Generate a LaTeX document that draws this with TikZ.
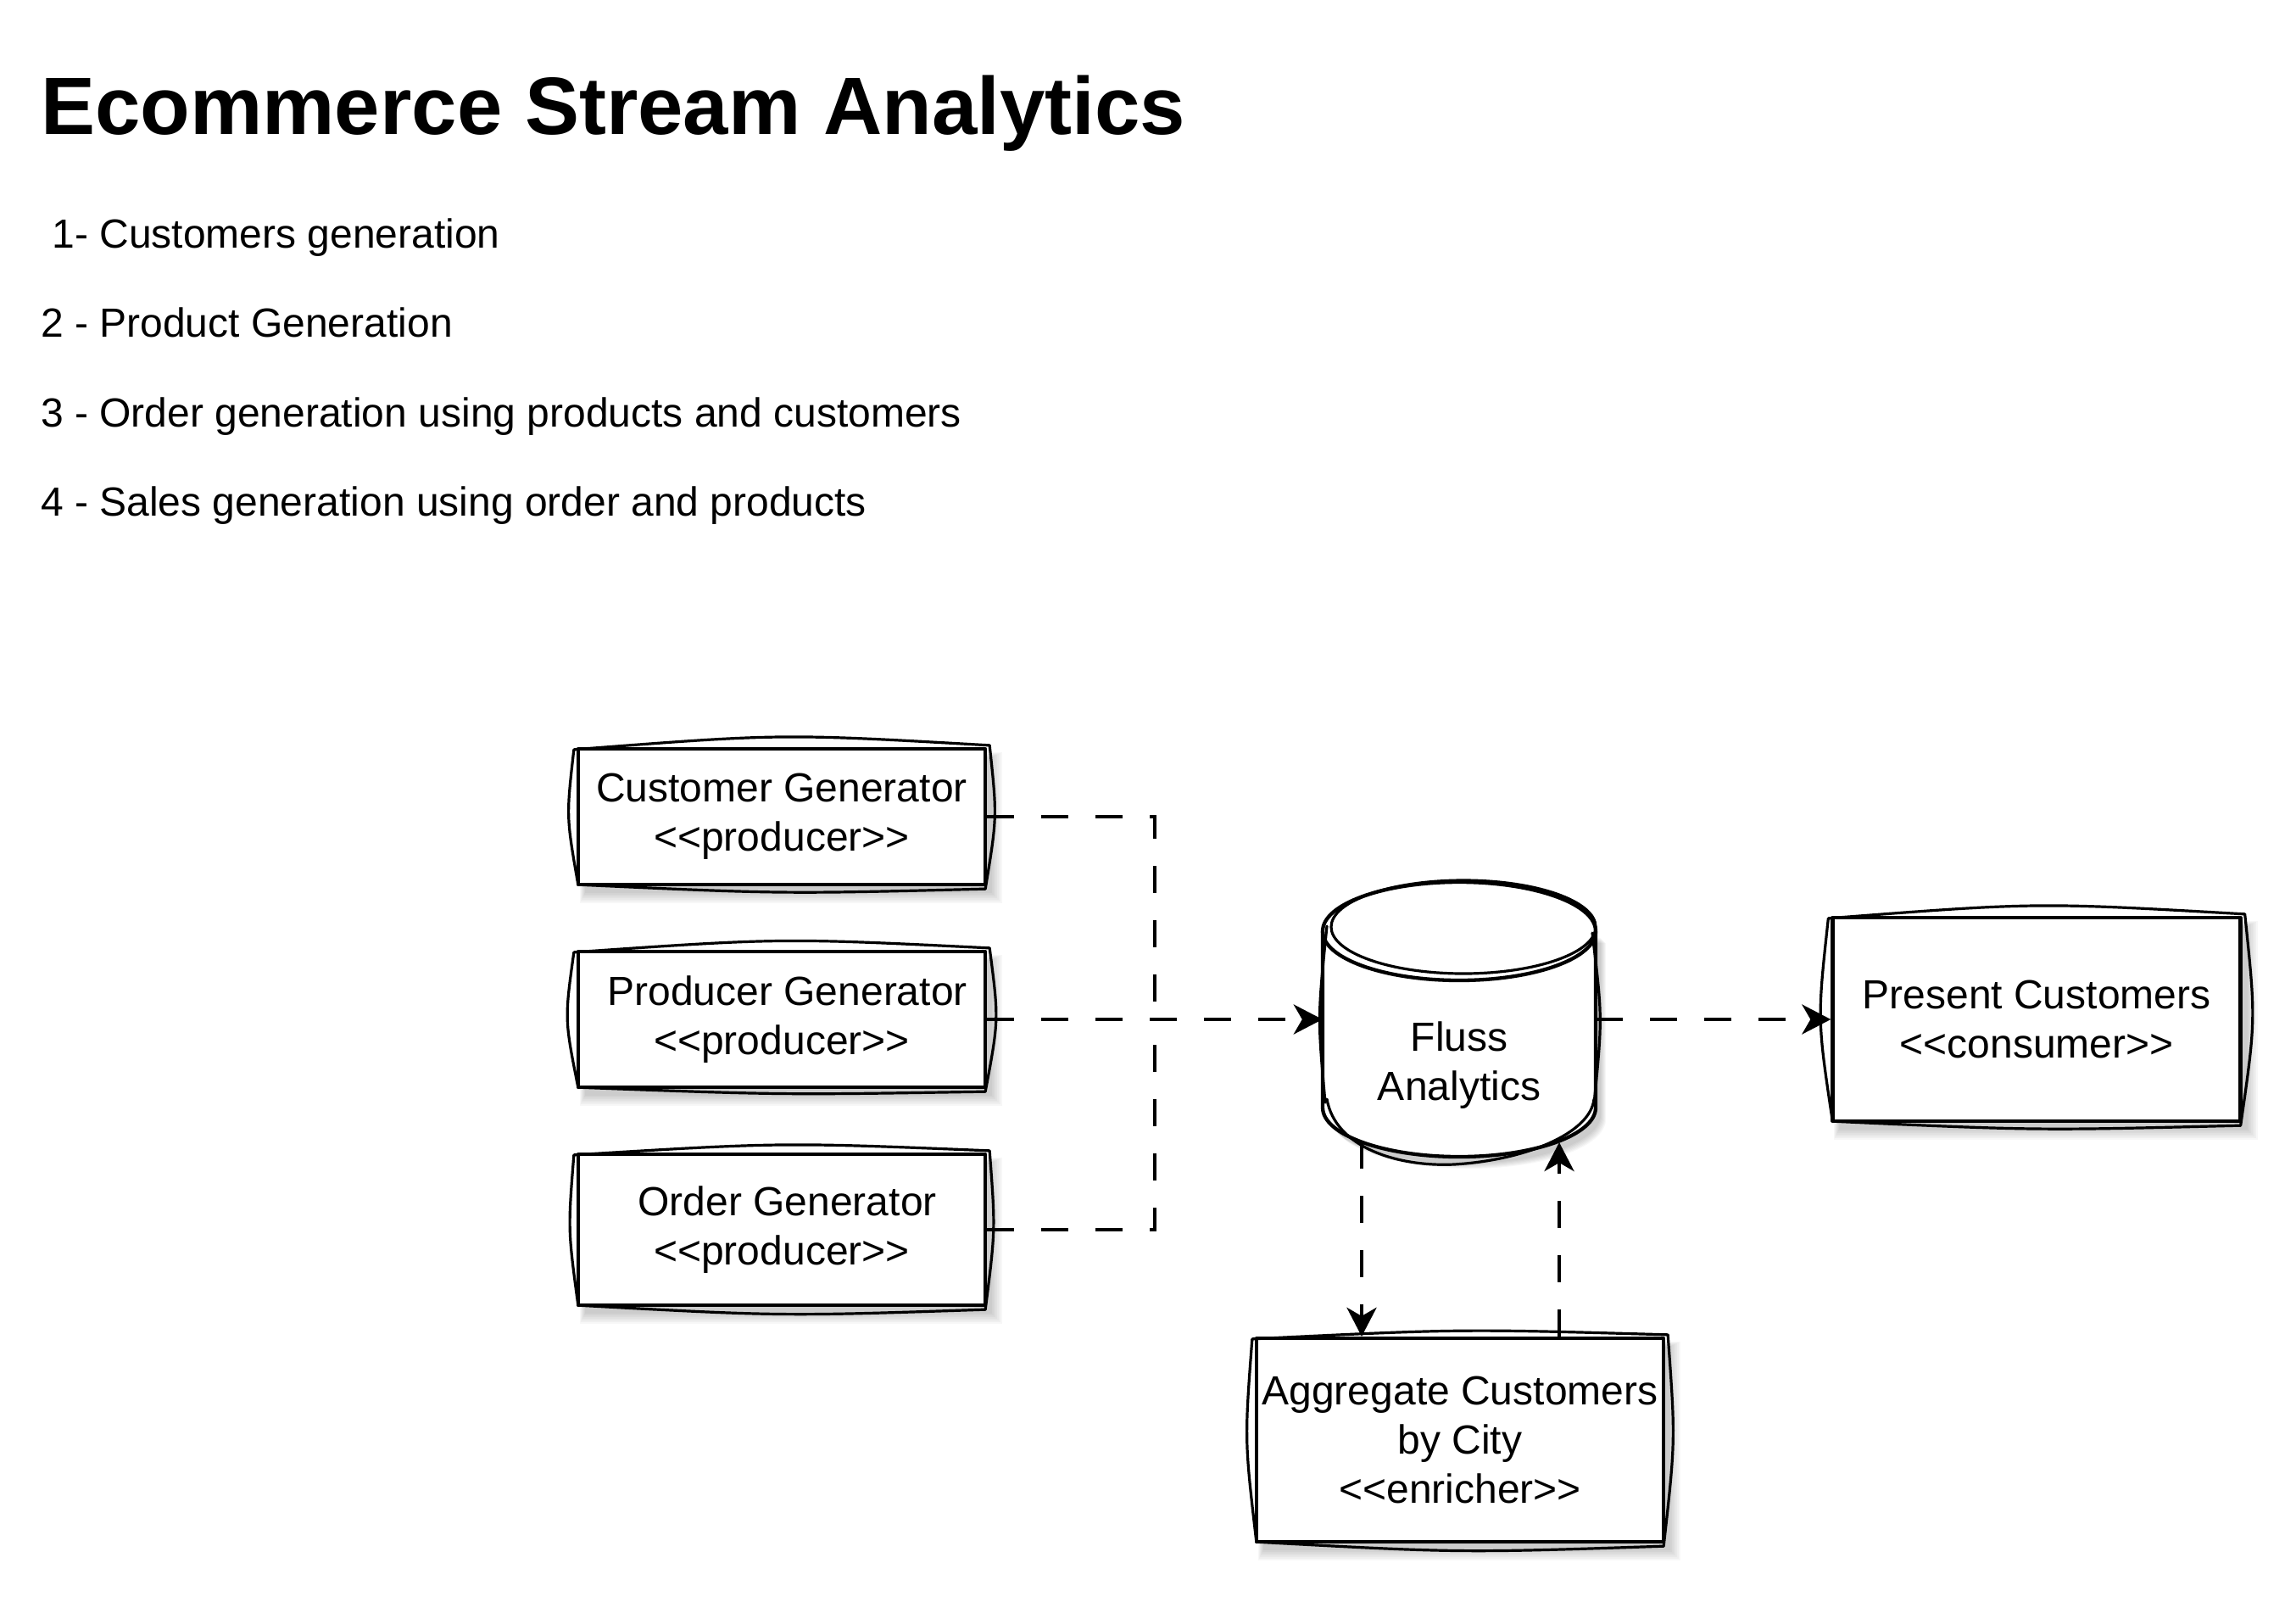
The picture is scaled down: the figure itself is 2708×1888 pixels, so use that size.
\documentclass[tikz,border=0pt]{standalone}
\usepackage{fontspec}
\setmainfont{Liberation Sans}
\usetikzlibrary{arrows.meta,calc}
\pgfdeclarelayer{bg}
\pgfsetlayers{bg,main}
\newcommand\dlt{<\kern0pt<}
\newcommand\dgt{>\kern0pt>}
% soft shadow behind a rectangular node
\newcommand\shd[1]{%
  \begin{pgfonlayer}{bg}
  \foreach \g in {0,2,...,12}{%
    \fill[black,opacity=0.03] ([shift={(10-\g/2,12-\g/2)}]#1.north west) rectangle ([shift={(6+\g,8+\g)}]#1.south east);}
  \end{pgfonlayer}}
% second, hand-drawn stroke around a rectangular node
\newcommand\skr[4]{%
  \draw[skline] ([shift={(-3,3)}]#1.north west)
    .. controls ([shift={(0,-#2)}]#1.north) .. ([shift={(3,-2)}]#1.north east)
    .. controls ([shift={(#3,0)}]#1.east) .. ([shift={(-2,3)}]#1.south east)
    .. controls ([shift={(0,#4)}]#1.south) .. ([shift={(2,-2)}]#1.south west)
    .. controls ([shift={(-#3,0)}]#1.west) .. ([shift={(-3,3)}]#1.north west);}
\begin{document}
\begin{tikzpicture}[x=1pt,y=-1pt,
  sbox/.style={draw=black,line width=4.3pt,fill=white,inner sep=0pt,align=center,
    font=\fontsize{48}{58}\selectfont,line join=round},
  skline/.style={draw=black,line width=3.2pt,line join=round,line cap=round},
  conn/.style={draw=black,line width=4.5pt,dash pattern=on 32pt off 32pt},
  arr/.style={-{Stealth[length=34pt,width=35pt,inset=10pt]}},
  txt/.style={anchor=base west,inner sep=0pt,font=\fontsize{48}{58}\selectfont}]
\useasboundingbox (0,0) rectangle (2708,1888);

% title and list
\node[anchor=base west,inner sep=0pt,font=\fontsize{96}{115}\selectfont\bfseries] (title) at (48,158) {Ecommerce Stream Analytics};
\node[txt] (l1) at (48,292) {\ 1- Customers generation};
\node[txt] (l2) at (48,397) {2 - Product Generation};
\node[txt] (l3) at (48,503) {3 - Order generation using products and customers};
\node[txt] (l4) at (48,608) {4 - Sales generation using order and products};

% boxes
\node[sbox,minimum width=480pt,minimum height=160pt] (cust) at (922,963) {Customer Generator\\\dlt producer\dgt};
\node[sbox,minimum width=480pt,minimum height=160pt] (prod) at (922,1202) {\ Producer Generator\\\dlt producer\dgt};
\node[sbox,minimum width=480pt,minimum height=178pt] (order) at (922,1450) {\ Order Generator\\\dlt producer\dgt};
\node[sbox,minimum width=481pt,minimum height=240pt] (present) at (2402,1202) {Present Customers\\\dlt consumer\dgt};
\node[sbox,minimum width=480pt,minimum height=240pt] (agg) at (1722,1698) {Aggregate Customers\\by City\\\dlt enricher\dgt};
\shd{cust}\shd{prod}\shd{order}\shd{present}\shd{agg}
\skr{cust}{16}{12}{9}
\skr{prod}{14}{14}{7}
\skr{order}{12}{10}{11}
\skr{present}{16}{16}{9}
\skr{agg}{9}{12}{11}

% cylinder
\node[inner sep=0pt,minimum width=322pt,minimum height=324pt] (fluss) at (1721,1202) {};
\begin{pgfonlayer}{bg}
  \foreach \g in {0,2,...,12}{%
    \fill[black,opacity=0.03,shift={(6+\g/2,8+\g/2)}] (1560,1098) -- (1560,1306) .. controls (1560,1338) and (1632,1364) .. (1721,1364) .. controls (1810,1364) and (1882,1338) .. (1882,1306) -- (1882,1098) -- cycle;}
\end{pgfonlayer}
\fill[white] (1560,1098) -- (1560,1306) .. controls (1560,1338) and (1632,1364) .. (1721,1364) .. controls (1810,1364) and (1882,1338) .. (1882,1306) -- (1882,1098) .. controls (1882,1066) and (1810,1040) .. (1721,1040) .. controls (1632,1040) and (1560,1066) .. (1560,1098) -- cycle;
\draw[line width=4.3pt,line join=round] (1560,1098) -- (1560,1306) .. controls (1560,1338) and (1632,1364) .. (1721,1364) .. controls (1810,1364) and (1882,1338) .. (1882,1306) -- (1882,1098);
\draw[line width=4.3pt] (1721,1098) ellipse [x radius=161, y radius=58];
\draw[skline] (1726,1093) ellipse [x radius=156, y radius=55];
\draw[skline] (1565,1092) .. controls (1554,1200) .. (1563,1300);
\draw[skline] (1878,1100) .. controls (1890,1200) .. (1880,1302);
\draw[skline] (1565,1296) .. controls (1575,1354) and (1650,1376) .. (1715,1373) .. controls (1800,1368) and (1876,1336) .. (1880,1296);
\node[inner sep=0pt,align=center,font=\fontsize{48}{58}\selectfont] (flusslbl) at (1721,1256) {Fluss\\Analytics};
\coordinate (fb1) at (1606,1346);
\coordinate (fb2) at (1839,1347);
\coordinate (jn) at (1362,1202);

% connectors
\draw[conn] (cust.east) -| (jn);
\draw[conn] (order.east) -| (jn);
\draw[conn,arr] (prod.east) -- (fluss.west);
\draw[conn,arr] (fluss.east) -- (present.west);
\draw[conn,arr] (fb1) -- (fb1 |- agg.north);
\draw[conn,arr] (fb2 |- agg.north) -- (fb2);
\end{tikzpicture}
\end{document}
